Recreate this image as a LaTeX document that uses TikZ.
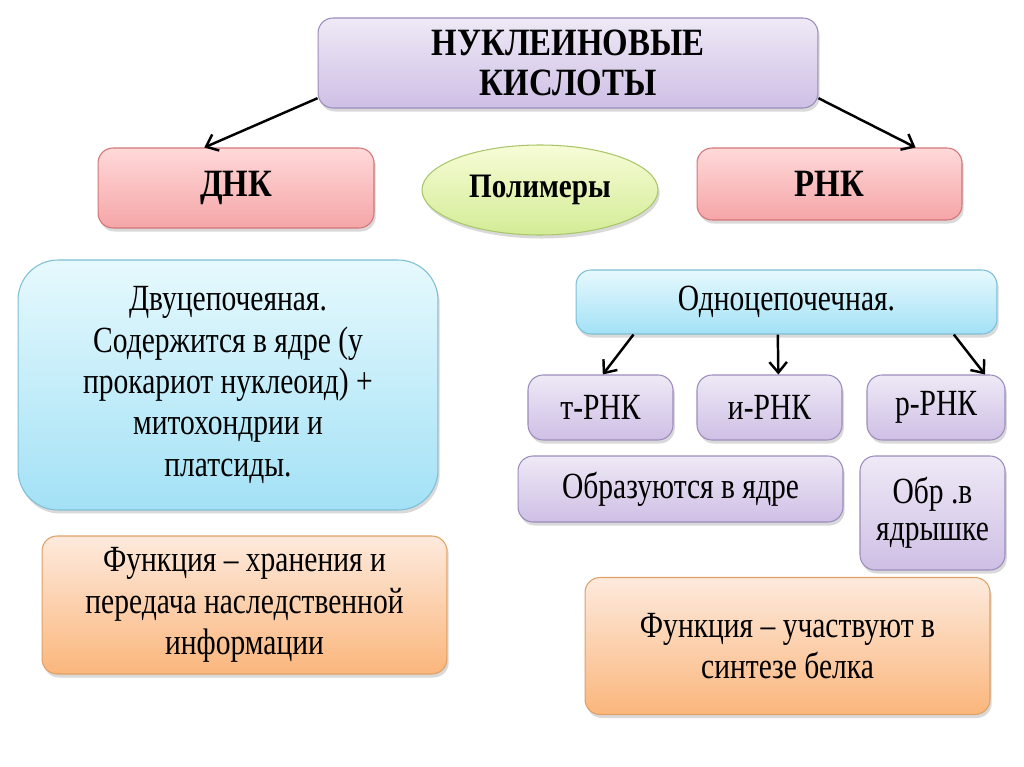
\documentclass[tikz,border=0pt]{standalone}
\usepackage{fontspec}
\setmainfont{Liberation Serif}[FakeStretch=0.85]
\newfontfamily\bodyfam{Liberation Serif}[FakeStretch=0.8, Ligatures=TeX]
\usetikzlibrary{arrows.meta,shapes.geometric,shadows}

\definecolor{lavtop}{HTML}{EFE9F6} \definecolor{lavbot}{HTML}{CEBFE5} \definecolor{lavline}{HTML}{9C8CBC}
\definecolor{pinktop}{HTML}{FFD9D9} \definecolor{pinkbot}{HTML}{F5A5A7} \definecolor{pinkline}{HTML}{D27676}
\definecolor{greentop}{HTML}{F7FCD6} \definecolor{greenbot}{HTML}{D3EC96} \definecolor{greenline}{HTML}{A9C66A}
\definecolor{cyantop}{HTML}{E6F9FD} \definecolor{cyanbot}{HTML}{A3E1F6} \definecolor{cyanline}{HTML}{7DBFD6}
\definecolor{orgtop}{HTML}{FDEADD} \definecolor{orgbot}{HTML}{FBB67C} \definecolor{orgline}{HTML}{DFA165}

\begin{document}
\begin{tikzpicture}[x=0.02cm, y=-0.02cm,
  box/.style={rectangle, rounded corners=0.3cm, draw, line width=0.6pt, align=center, inner sep=2pt,
    drop shadow={opacity=0.3, shadow xshift=1pt, shadow yshift=-2pt}},
  lav/.style={box, top color=lavtop, bottom color=lavbot, draw=lavline},
  pinkbox/.style={box, top color=pinktop, bottom color=pinkbot, draw=pinkline},
  cyanbox/.style={box, top color=cyantop, bottom color=cyanbot, draw=cyanline},
  orgbox/.style={box, top color=orgtop, bottom color=orgbot, draw=orgline},
  body/.style={font=\bodyfam\fontsize{21}{23.5}\selectfont},
  arr/.style={-{Straight Barb[length=6pt,width=10pt]}, line width=1.4pt, black}]
  \useasboundingbox (0,0) rectangle (1024,767);
  % top level
  \node[lav, minimum width=10cm, minimum height=1.8cm, font=\bfseries\fontsize{22}{23}\selectfont] (kisl) at (568,63) {НУКЛЕИНОВЫЕ\\КИСЛОТЫ};
  \node[pinkbox, minimum width=5.52cm, minimum height=1.6cm, font=\bfseries\fontsize{22}{24}\selectfont] (dnk) at (236,188) {ДНК};
  \node[pinkbox, minimum width=5.3cm, minimum height=1.44cm, font=\bfseries\fontsize{22}{24}\selectfont] (rnk) at (829.5,184) {РНК};
  \node[ellipse, draw=greenline, line width=0.6pt, top color=greentop, bottom color=greenbot, minimum width=4.72cm, minimum height=1.8cm,
    drop shadow={opacity=0.3, shadow xshift=1pt, shadow yshift=-2pt}, font=\bfseries\fontsize{19.5}{22}\selectfont] (poly) at (540,190) {Полимеры};
  \draw[arr] (kisl.188) -- (dnk.128); \draw[arr] (kisl.-8) -- (rnk.23);
  % DNA side
  \node[cyanbox, rounded corners=0.8cm, minimum width=8.4cm, minimum height=5cm, body] (dvu) at (228,385) {Двуцепочеяная.\\Содержится в ядре (у\\прокариот нуклеоид) +\\митохондрии и\\платсиды.};
  \node[orgbox, minimum width=8.1cm, minimum height=2.76cm, body] (fdnk) at (244.5,605) {Функция – хранения и\\передача наследственной\\информации};
  % RNA side
  \node[cyanbox, minimum width=8.42cm, minimum height=1.28cm, body] (odno) at (786.5,302) {Одноцепочечная.};
  \node[lav, minimum width=2.9cm, minimum height=1.3cm, body] (trna) at (600.5,407.5) {т-РНК};
  \node[lav, minimum width=2.9cm, minimum height=1.3cm, body] (irna) at (769.5,407.5) {и-РНК};
  \node[lav, minimum width=2.76cm, minimum height=1.3cm, body] (rrna) at (936,407.5) {р-РНК};
  \draw[arr] (odno.192) -- (trna.86); \draw[arr] (odno.255) -- (irna.75); \draw[arr] (odno.-11) -- (rrna.34);
  \node[lav, minimum width=6.5cm, minimum height=1.32cm, body] (obr) at (680.5,489) {Образуются в ядре};
  \node[lav, minimum width=2.9cm, minimum height=2.28cm, font=\bodyfam\fontsize{21}{21}\selectfont] (obry) at (932.5,513) {Обр .в\\ядрышке};
  \node[orgbox, minimum width=8.1cm, minimum height=2.74cm, body] (frnk) at (787.5,646) {Функция – участвуют в\\синтезе белка};
\end{tikzpicture}
\end{document}
